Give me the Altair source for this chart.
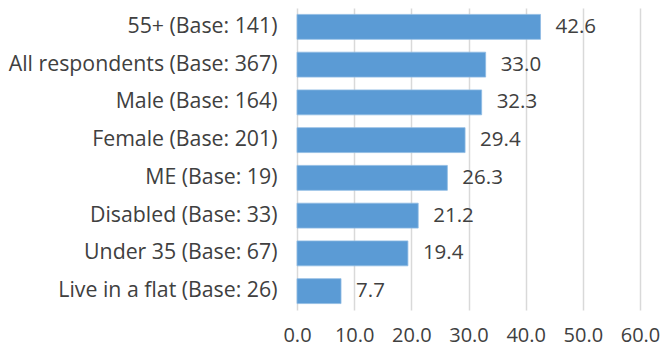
import altair as alt
import pandas as pd

categories = [
    "55+ (Base: 141)",
    "All respondents (Base: 367)",
    "Male (Base: 164)",
    "Female (Base: 201)",
    "ME (Base: 19)",
    "Disabled (Base: 33)",
    "Under 35 (Base: 67)",
    "Live in a flat (Base: 26)",
]
values = [42.6, 33.0, 32.3, 29.4, 26.3, 21.2, 19.4, 7.7]
x_ticks = [0, 10, 20, 30, 40, 50, 60]

df = pd.DataFrame({"cat": categories, "val": values})
FONT = "Open Sans"

y = alt.Y("cat:N", sort=categories, title=None,
          scale=alt.Scale(paddingInner=0.34, paddingOuter=0.17),
          axis=alt.Axis(domain=False, ticks=False, labelPadding=20, labelFontSize=21.3,
                        labelColor="#404040", labelFont=FONT, labelLimit=400))
x = alt.X("val:Q", title=None, scale=alt.Scale(domain=[0, 60], nice=False),
          axis=alt.Axis(values=x_ticks, format=".1f", domain=False, ticks=False,
                        labelPadding=15, labelFontSize=20, labelColor="#404040",
                        labelFont=FONT, labelFlush=False, labelOverlap=False,
                        grid=True, gridColor="#d9d9d9", gridWidth=1.5))

bars = alt.Chart(df).mark_bar(color="#5B9BD5", stroke="#8fbbe3", strokeWidth=0.8).encode(x=x, y=y)
labels = alt.Chart(df).mark_text(align="left", dx=15, fontSize=20.5, color="#404040", font=FONT).encode(
    x="val:Q", y=alt.Y("cat:N", sort=categories), text=alt.Text("val:Q", format=".1f"))

chart = (bars + labels).properties(
    width=343, height=302,
    autosize=alt.AutoSizeParams(type="none"),
    padding={"left": 289, "top": 0, "right": 22, "bottom": 40},
).configure_view(stroke=None)

chart.save("out.html", embed_options={"renderer": "svg", "actions": False})
